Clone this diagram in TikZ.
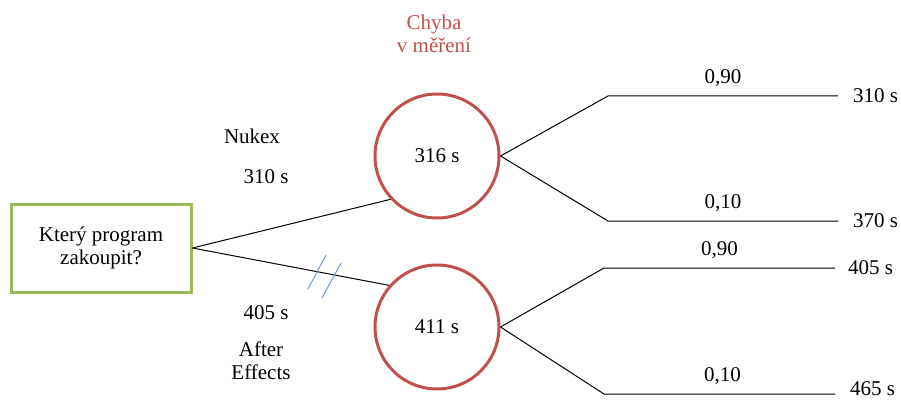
\documentclass[tikz,border=0pt]{standalone}
\usepackage{fontspec}
\setmainfont{Liberation Serif}
\newfontfamily\tms{Liberation Serif}
\definecolor{uzelzel}{RGB}{155,187,89}
\definecolor{uzelcerv}{RGB}{192,80,77}
\definecolor{carka}{RGB}{110,155,215}

\begin{document}
\begin{tikzpicture}[x=1pt, y=-1pt]
\tikzset{rozhod/.style={draw=uzelzel, line width=3pt, minimum width=180pt, minimum height=88pt, align=center, font=\tms\fontsize{21}{23}\selectfont},
  nahoda/.style={draw=uzelcerv, line width=3pt, circle, minimum size=124pt, inner sep=0pt, font=\tms\fontsize{21}{23}\selectfont},
  popis/.style={align=center, inner sep=0pt, font=\tms\fontsize{21}{23}\selectfont},
  hrana/.style={line width=1pt},
  carky/.style={draw=carka, line width=1pt}}
\useasboundingbox (0,0) rectangle (901,401);
\node[rozhod] (prog) at (101,248) {Který program\\zakoupit?};
\node[nahoda] (nukex) at (437,156) {316 s};
\node[nahoda] (after) at (437,327) {411 s};
\node[popis, text=uzelcerv] (chyba) at (434,34) {Chyba\\v měření};
\node[popis] (nnazev) at (252,136) {Nukex};
\node[popis] (ncas) at (266,177) {310 s};
\node[popis] (acas) at (266,313) {405 s};
\node[popis] (anazev) at (261,361) {After\\Effects};
\coordinate (K1) at (608,96);
\coordinate (K2) at (608,221);
\coordinate (K3) at (604,268);
\coordinate (K4) at (604,394);
\coordinate (E1) at (838,96);
\coordinate (E2) at (838,221);
\coordinate (E3) at (835,268);
\coordinate (E4) at (835,394);
\node[popis, anchor=west] (V1) at (853,96) {310 s};
\node[popis, anchor=west] (V2) at (853,221) {370 s};
\node[popis, anchor=west] (V3) at (848,268) {405 s};
\node[popis, anchor=west] (V4) at (850,389) {465 s};
\draw[hrana] (prog.east) -- (nukex.223);
\draw[hrana] (prog.east) -- (after.139);
\draw[hrana] (nukex.east) -- (K1) -- node[popis, above=9pt] {0,90} (E1);
\draw[hrana] (nukex.east) -- (K2) -- node[popis, above=9pt] {0,10} (E2);
\draw[hrana] (after.east) -- (K3) -- node[popis, above=9pt] {0,90} (E3);
\draw[hrana] (after.east) -- (K4) -- node[popis, above=9pt, xshift=3pt] {0,10} (E4);
\draw[carky] (308,289) -- (326,255);
\draw[carky] (322,298) -- (341,263);
\end{tikzpicture}
\end{document}
